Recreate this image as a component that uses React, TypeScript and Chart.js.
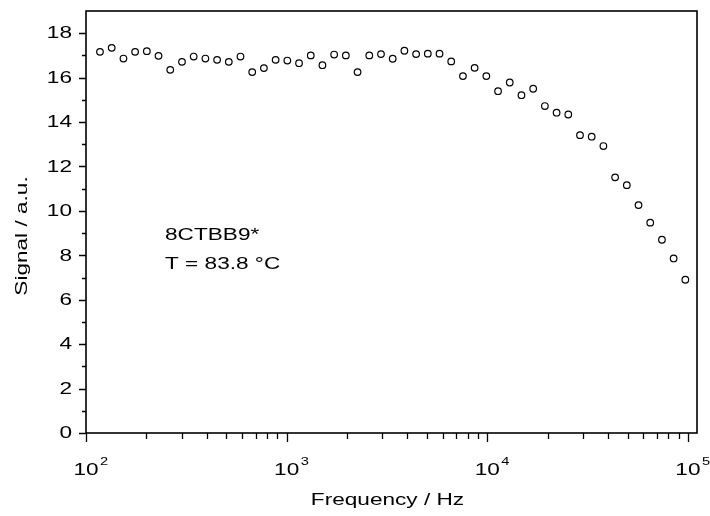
import React, { useEffect, useRef } from "react";
import { Chart, registerables } from "chart.js";

Chart.register(...registerables);

// Frequency (Hz)
const frequencies: number[] = [
  117.4, 134.3, 153.7, 175.7, 201.0, 229.9, 263.0, 300.9, 344.1, 393.6,
  450.2, 514.9, 588.8, 673.6, 770.4, 881.3, 1008, 1153, 1319, 1508,
  1725, 1973, 2257, 2582, 2953, 3378, 3863, 4419, 5054, 5781,
  6612, 7563, 8650, 9894, 11317, 12944, 14805, 16934, 19369, 22154,
  25339, 28983, 33150, 37917, 43369, 49605, 56737, 64896, 74226, 84900,
  97100,
];

// Signal (a.u.)
const signal: number[] = [
  17.16, 17.34, 16.86, 17.16, 17.19, 16.98, 16.35, 16.71, 16.95, 16.86,
  16.8, 16.71, 16.95, 16.25, 16.43, 16.8, 16.77, 16.65, 17.0, 16.56,
  17.04, 17.0, 16.25, 17.0, 17.06, 16.85, 17.21, 17.06, 17.08, 17.08,
  16.73, 16.07, 16.44, 16.07, 15.39, 15.78, 15.21, 15.5, 14.72, 14.42,
  14.34, 13.41, 13.34, 12.92, 11.51, 11.16, 10.26, 9.47, 8.7, 7.86,
  6.9,
];

const xMajorTicks: number[] = [100, 1000, 10000, 100000];
const xTickBase: string[] = ["10", "10", "10", "10"];
const xTickExponents: string[] = ["2", "3", "4", "5"];
const yMajorTicks: number[] = [0, 2, 4, 6, 8, 10, 12, 14, 16, 18];
const yMinorTicks: number[] = [1, 3, 5, 7, 9, 11, 13, 15, 17];
const xMinorMultipliers: number[] = [2, 3, 4, 5, 6, 7, 8, 9];

const xTitle = "Frequency / Hz";
const yTitle = "Signal / a.u.";
const annotationLines: string[] = ["8CTBB9*", "T = 83.8 °C"];

const FONT = "'Liberation Sans', Arial, Helvetica, sans-serif";
const SX = 1.33; // wide glyphs of the original typeface

function drawWideText(
  ctx: CanvasRenderingContext2D,
  text: string,
  x: number,
  y: number,
  size: number,
  align: CanvasTextAlign,
  baseline: CanvasTextBaseline,
  rotate = 0
) {
  ctx.save();
  ctx.translate(x, y);
  if (rotate) ctx.rotate(rotate);
  ctx.scale(SX, 1);
  ctx.font = `${size}px ${FONT}`;
  ctx.textAlign = align;
  ctx.textBaseline = baseline;
  ctx.fillText(text, 0, 0);
  ctx.restore();
}

const framePlugin = {
  id: "frameAndTicks",
  afterDraw(chart: any) {
    const { ctx, chartArea, scales } = chart;
    const { left, right, top, bottom } = chartArea;
    const xs = scales.x;
    const ys = scales.y;
    ctx.save();
    ctx.strokeStyle = "#000";
    ctx.fillStyle = "#000";
    ctx.lineWidth = 1.6;
    ctx.strokeRect(left, top, right - left, bottom - top);

    ctx.lineWidth = 1.3;
    ctx.beginPath();
    for (const v of yMajorTicks) {
      const y = Math.round(ys.getPixelForValue(v)) + 0.5;
      ctx.moveTo(left - 7, y);
      ctx.lineTo(left, y);
    }
    for (const v of yMinorTicks) {
      const y = Math.round(ys.getPixelForValue(v)) + 0.5;
      ctx.moveTo(left - 4, y);
      ctx.lineTo(left, y);
    }
    for (const v of xMajorTicks) {
      const x = Math.round(xs.getPixelForValue(v)) + 0.5;
      ctx.moveTo(x, bottom);
      ctx.lineTo(x, bottom + 9);
    }
    for (const dec of xMajorTicks.slice(0, -1)) {
      for (const m of xMinorMultipliers) {
        const v = dec * m;
        if (v > xs.max) continue;
        const x = Math.round(xs.getPixelForValue(v)) + 0.5;
        ctx.moveTo(x, bottom);
        ctx.lineTo(x, bottom + 6);
      }
    }
    ctx.stroke();

    // y tick labels
    for (const v of yMajorTicks) {
      const y = ys.getPixelForValue(v);
      drawWideText(ctx, String(v), left - 14, y + 0.5, 17, "right", "middle");
    }
    // x tick labels (10 with superscript exponent)
    xMajorTicks.forEach((v, i) => {
      const x = xs.getPixelForValue(v);
      const baseY = bottom + 42;
      drawWideText(ctx, xTickBase[i], x, baseY, 17, "center", "alphabetic");
      ctx.font = `17px ${FONT}`;
      const w = ctx.measureText(xTickBase[i]).width * SX;
      drawWideText(ctx, xTickExponents[i], x + w / 2 + 1.5, baseY - 10, 11, "left", "alphabetic");
    });

    // axis titles
    drawWideText(ctx, xTitle, (left + right) / 2 - 4, bottom + 72, 17, "center", "alphabetic");
    drawWideText(ctx, yTitle, 27, (top + bottom) / 2 + 14, 17, "center", "alphabetic", -Math.PI / 2);

    // annotation
    annotationLines.forEach((line, i) => {
      drawWideText(ctx, line, left + 79, top + 229 + i * 29, 17, "left", "alphabetic");
    });
    ctx.restore();
  },
};

export default function App() {
  const canvasRef = useRef<HTMLCanvasElement | null>(null);

  useEffect(() => {
    if (!canvasRef.current) return;
    const chart = new Chart(canvasRef.current, {
      type: "scatter",
      data: {
        datasets: [
          {
            data: frequencies.map((f, i) => ({ x: f, y: signal[i] })),
            showLine: false,
            pointStyle: "circle",
            pointRadius: 3.3,
            pointBorderWidth: 1.2,
            pointBorderColor: "#000",
            pointBackgroundColor: "#fff",
          },
        ],
      },
      options: {
        animation: false,
        responsive: false,
        events: [],
        layout: { padding: { top: 11, right: 13, left: 0, bottom: 0 } },
        plugins: {
          legend: { display: false },
          tooltip: { enabled: false },
        },
        scales: {
          x: {
            type: "logarithmic",
            min: 100,
            max: 111000,
            grid: { display: false, drawTicks: false },
            border: { display: false },
            afterBuildTicks: (scale: any) => {
              scale.ticks = xMajorTicks.map((v) => ({ value: v }));
            },
            afterFit: (scale: any) => {
              scale.height = 83;
            },
            ticks: { display: false },
            title: { display: false, text: xTitle },
          },
          y: {
            type: "linear",
            min: 0,
            max: 19,
            grid: { display: false, drawTicks: false },
            border: { display: false },
            afterBuildTicks: (scale: any) => {
              scale.ticks = yMajorTicks.map((v) => ({ value: v }));
            },
            afterFit: (scale: any) => {
              scale.width = 86;
            },
            ticks: { display: false },
            title: { display: false, text: yTitle },
          },
        },
      },
      plugins: [framePlugin],
    });
    return () => chart.destroy();
  }, []);

  return (
    <div style={{ position: "fixed", left: 0, top: 0, width: 710, height: 516, background: "#fff" }}>
      <canvas ref={canvasRef} width={710} height={516} style={{ display: "block" }} />
    </div>
  );
}
